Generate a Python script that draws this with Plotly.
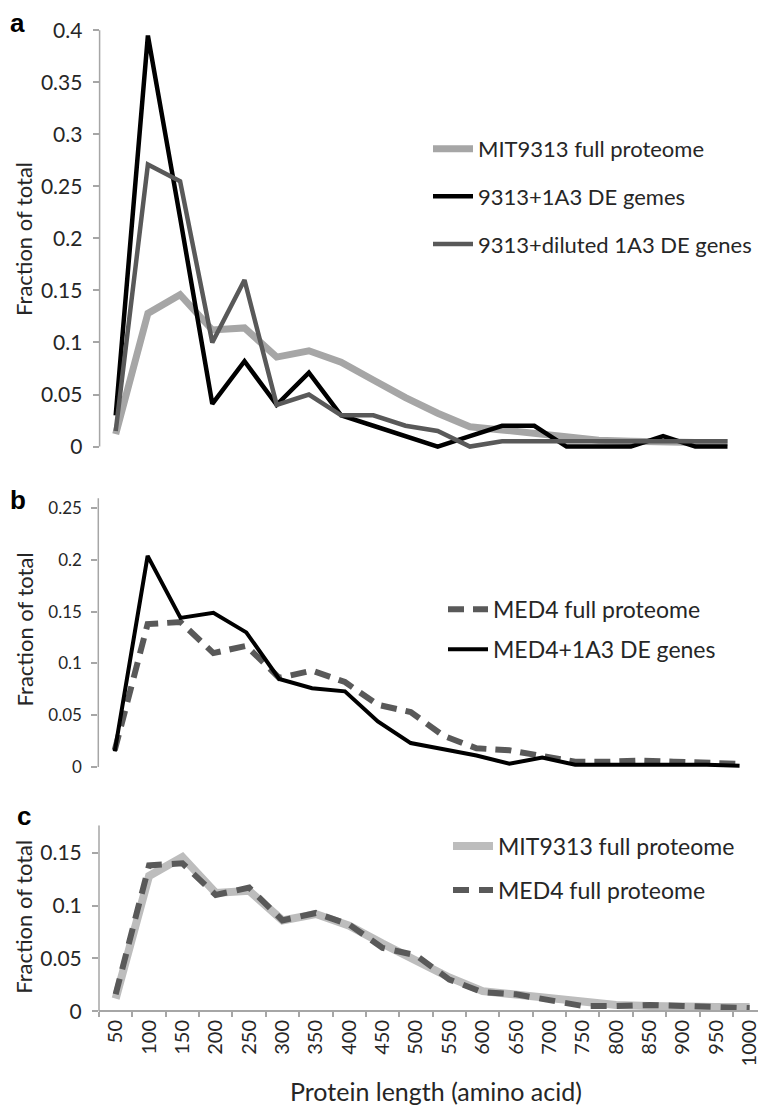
import plotly.graph_objects as go

# protein length bins (amino acids)
lengths = ["50", "100", "150", "200", "250", "300", "350", "400", "450", "500",
           "550", "600", "650", "700", "750", "800", "850", "900", "950", "1000"]

# fraction of total per bin
mit9313_full = [0.012, 0.128, 0.146, 0.112, 0.114, 0.086, 0.092, 0.081, 0.064, 0.047,
                 0.032, 0.019, 0.016, 0.013, 0.009, 0.006, 0.005, 0.004, 0.004, 0.004]
de_9313_1a3 = [0.030, 0.395, 0.220, 0.041, 0.082, 0.040, 0.071, 0.030, 0.020, 0.010,
               0.000, 0.010, 0.020, 0.020, 0.000, 0.000, 0.000, 0.010, 0.000, 0.000]
de_9313_diluted = [0.015, 0.271, 0.255, 0.100, 0.160, 0.040, 0.050, 0.030, 0.030, 0.020,
                   0.015, 0.000, 0.005, 0.005, 0.005, 0.005, 0.005, 0.005, 0.005, 0.005]
med4_full = [0.016, 0.138, 0.140, 0.110, 0.117, 0.086, 0.093, 0.082, 0.060, 0.053,
             0.030, 0.018, 0.016, 0.010, 0.005, 0.005, 0.006, 0.005, 0.004, 0.003]
de_med4_1a3 = [0.015, 0.204, 0.144, 0.149, 0.130, 0.085, 0.076, 0.073, 0.044, 0.023,
               0.017, 0.011, 0.003, 0.009, 0.002, 0.002, 0.002, 0.002, 0.002, 0.001]

ticks_a = [0, 0.05, 0.1, 0.15, 0.2, 0.25, 0.3, 0.35, 0.4]
ticks_b = [0, 0.05, 0.1, 0.15, 0.2, 0.25]
ticks_c = [0, 0.05, 0.1, 0.15]

W, H = 766, 1114
FONT = "Lato"
TXT = "#262626"
AXIS = "#a6a6a6"
LIGHT = "#a6a6a6"
DARK = "#595959"


def px_x(v):
    return v / W


def px_y(v):
    return 1 - v / H


def tick_text(vals):
    return [("%g" % v) for v in vals]


fig = go.Figure()

# panel a
fig.add_trace(go.Scatter(x=lengths, y=mit9313_full, mode="lines", name="MIT9313 full proteome",
                         line=dict(color=LIGHT, width=7), xaxis="x", yaxis="y",
                         legend="legend", legendgroup="a1"))
fig.add_trace(go.Scatter(x=lengths, y=de_9313_1a3, mode="lines", name="9313+1A3 DE gemes",
                         line=dict(color="black", width=4.5), xaxis="x", yaxis="y",
                         legend="legend", legendgroup="a2"))
fig.add_trace(go.Scatter(x=lengths, y=de_9313_diluted, mode="lines", name="9313+diluted 1A3 DE genes",
                         line=dict(color=DARK, width=4.5), xaxis="x", yaxis="y",
                         legend="legend", legendgroup="a3"))

# panel b
fig.add_trace(go.Scatter(x=lengths, y=med4_full, mode="lines", name="MED4 full proteome",
                         line=dict(color=DARK, width=6, dash="16px,9px"), xaxis="x2", yaxis="y2",
                         legend="legend2", legendgroup="b1"))
fig.add_trace(go.Scatter(x=lengths, y=de_med4_1a3, mode="lines", name="MED4+1A3 DE genes",
                         line=dict(color="black", width=4), xaxis="x2", yaxis="y2",
                         legend="legend2", legendgroup="b2"))

# panel c
fig.add_trace(go.Scatter(x=lengths, y=mit9313_full, mode="lines", name="MIT9313 full proteome",
                         line=dict(color="#bdbdbd", width=8), xaxis="x3", yaxis="y3",
                         legend="legend3", legendgroup="c1"))
fig.add_trace(go.Scatter(x=lengths, y=med4_full, mode="lines", name="MED4 full proteome",
                         line=dict(color=DARK, width=6, dash="16px,10px"), xaxis="x3", yaxis="y3",
                         legend="legend3", legendgroup="c2"))

yax = dict(showgrid=False, zeroline=False, showline=False, ticks="outside", ticklen=6,
           tickcolor=AXIS, tickwidth=1.5, ticklabelstandoff=6,
           tickfont=dict(size=21, color=TXT, family=FONT))
hidden_x = dict(type="category", range=[-0.5, 19.5], visible=False, showgrid=False)

legend_style = dict(font=dict(size=23, color=TXT, family=FONT), bgcolor="rgba(0,0,0,0)",
                    xanchor="left", yanchor="top", traceorder="grouped", itemwidth=40)

fig.update_layout(
    width=W, height=H,
    margin=dict(l=0, r=0, t=0, b=0),
    paper_bgcolor="white", plot_bgcolor="white",
    font=dict(family=FONT, color=TXT),
    showlegend=True,
    xaxis=dict(hidden_x, domain=[px_x(91.6), px_x(735.6)], anchor="y"),
    yaxis=dict(yax, domain=[px_y(443.7), px_y(9)], range=[-0.004, 0.41], anchor="x",
               tickvals=ticks_a, ticktext=tick_text(ticks_a)),
    xaxis2=dict(hidden_x, domain=[px_x(90.3), px_x(748)], anchor="y2"),
    yaxis2=dict(yax, domain=[px_y(766.9), px_y(491.3)], range=[-0.004, 0.26], anchor="x2",
                tickvals=ticks_b, ticktext=tick_text(ticks_b),
                tickfont=dict(size=17, color=TXT, family=FONT)),
    xaxis3=dict(type="category", range=[-0.5, 19.5], domain=[px_x(91), px_x(758.3)],
                anchor="free", position=px_y(1009.3), showgrid=False, zeroline=False,
                showline=True, linecolor=AXIS, linewidth=1.5, ticks="outside", ticklen=5,
                tickcolor=AXIS, tickwidth=1.5, tickson="boundaries", tickangle=-90,
                tickfont=dict(size=20, color=TXT, family=FONT)),
    yaxis3=dict(yax, domain=[px_y(1013.6), px_y(821.6)], range=[-0.004, 0.176], anchor="x3",
                tickvals=ticks_c, ticktext=tick_text(ticks_c)),
    legend=dict(legend_style, x=px_x(420), y=px_y(118), tracegroupgap=16,
                font=dict(size=22, color=TXT, family=FONT)),
    legend2=dict(legend_style, x=px_x(435), y=px_y(582), tracegroupgap=7),
    legend3=dict(legend_style, x=px_x(440), y=px_y(821), tracegroupgap=11),
)

# y axis lines stop at the top tick
for xr, yr, top in (("x domain", "y", 0.4), ("x2 domain", "y2", 0.2596), ("x3 domain", "y3", 0.176)):
    fig.add_shape(type="line", xref=xr, yref=yr, x0=0, x1=0, y0=0, y1=top,
                  line=dict(color=AXIS, width=1.5))

# axis titles and panel letters
for yc in (230, 624, 914):
    fig.add_annotation(text="Fraction of total", xref="paper", yref="paper",
                       x=px_x(16), y=px_y(yc), xanchor="center", yanchor="middle",
                       textangle=-90, showarrow=False,
                       font=dict(size=22, color=TXT, family=FONT))
fig.add_annotation(text="Protein length (amino acid)", xref="paper", yref="paper",
                   x=px_x(428), y=px_y(1090), xanchor="center", yanchor="middle",
                   showarrow=False, font=dict(size=25, color=TXT, family=FONT))
for letter, lx, ly in (("a", 9, 12), ("b", 10, 493), ("c", 16, 812)):
    fig.add_annotation(text="<b>%s</b>" % letter, xref="paper", yref="paper",
                       x=px_x(lx), y=px_y(ly), xanchor="center", yanchor="middle",
                       showarrow=False,
                       font=dict(size=26, color="black", family="Liberation Sans"))

fig.write_html("out.html")
